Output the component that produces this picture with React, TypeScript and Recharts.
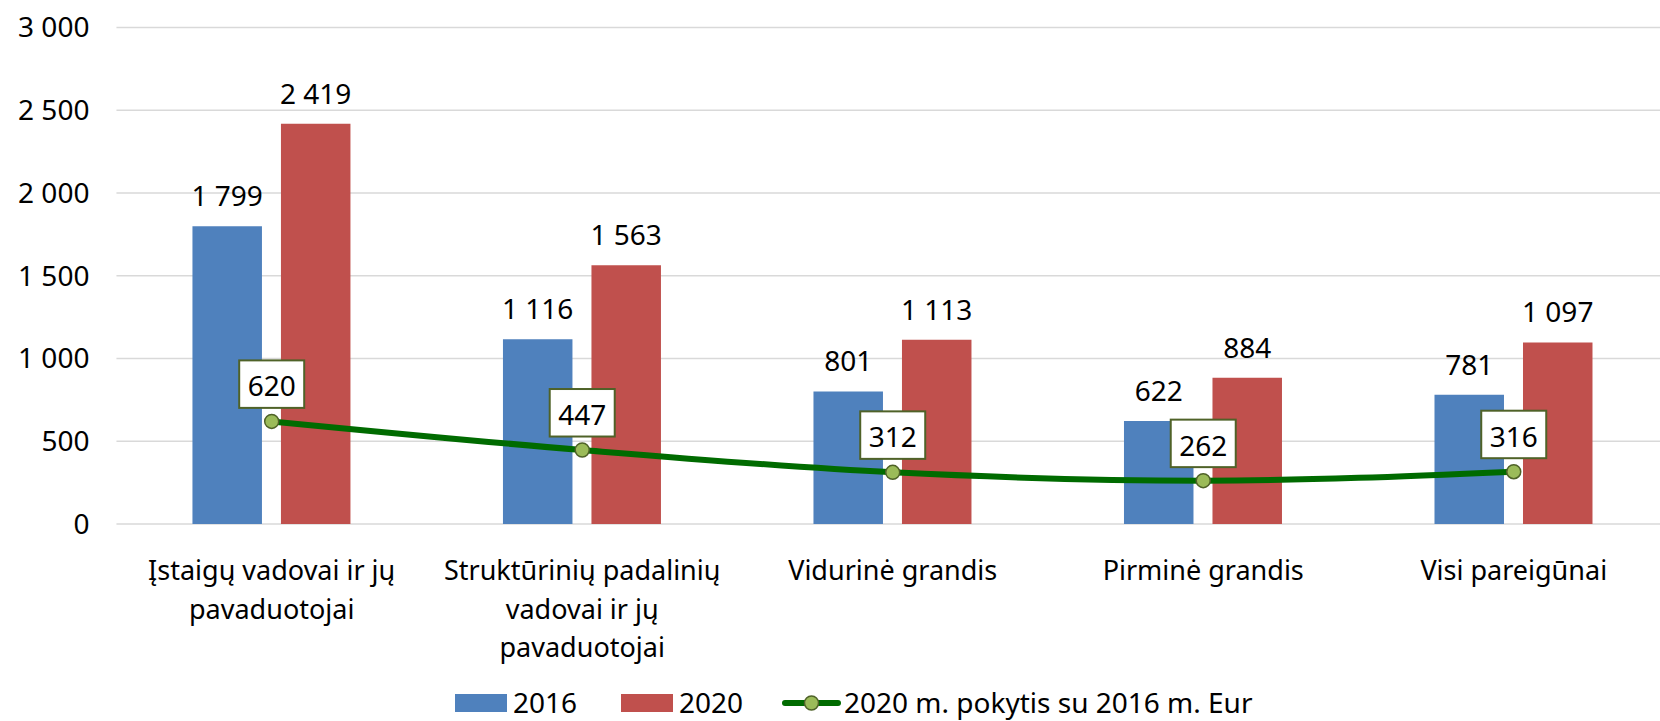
import React from "react"
import {
  ComposedChart,
  Bar,
  Line,
  XAxis,
  YAxis,
  CartesianGrid,
  Legend,
  LabelList,
} from "recharts"

// ── Data ─────────────────────────────────────────────
const categories = [
  "Įstaigų vadovai ir jų pavaduotojai",
  "Struktūrinių padalinių vadovai ir jų pavaduotojai",
  "Vidurinė grandis",
  "Pirminė grandis",
  "Visi pareigūnai",
]
const values2016 = [1799, 1116, 801, 622, 781]
const values2020 = [2419, 1563, 1113, 884, 1097]
const changeValues = [620, 447, 312, 262, 316]
const yTicks = [0, 500, 1000, 1500, 2000, 2500, 3000]

const seriesNames = {
  a: "2016",
  b: "2020",
  c: "2020 m. pokytis su 2016 m. Eur",
}

const data = categories.map((name, i) => ({
  name,
  a: values2016[i],
  b: values2020[i],
  c: changeValues[i],
}))

const FONT = "'Noto Sans', sans-serif"
const BLUE = "#4F81BD"
const RED = "#C0504D"
const GREEN = "#006B00"
const OLIVE = "#4F6228"

const fmt = (v: number) => String(v).replace(/\B(?=(\d{3})+(?!\d))/g, " ")

// wrap category names roughly like Excel does
function wrap(text: string, max = 23) {
  const words = text.split(" ")
  const lines: string[] = []
  let cur = ""
  for (const w of words) {
    const next = cur ? cur + " " + w : w
    if (next.length > max && cur) {
      lines.push(cur)
      cur = w
    } else {
      cur = next
    }
  }
  if (cur) lines.push(cur)
  return lines
}

function CategoryTick({ x, y, payload }: any) {
  const lines = wrap(payload.value)
  return (
    <g>
      {lines.map((l, i) => (
        <text
          key={i}
          x={x}
          y={y + 56 + i * 38.5}
          textAnchor="middle"
          fontFamily={FONT}
          fontSize={27}
          fill="#000"
        >
          {l}
        </text>
      ))}
    </g>
  )
}

function BoxLabel({ x, y, value }: any) {
  const w = 65
  const h = 47.5
  return (
    <g>
      <rect
        x={x - w / 2}
        y={y - 13.5 - h}
        width={w}
        height={h}
        fill="#fff"
        stroke={OLIVE}
        strokeWidth={2}
      />
      <text
        x={x}
        y={y - 25}
        textAnchor="middle"
        fontFamily={FONT}
        fontSize={28}
        fill="#000"
      >
        {fmt(value)}
      </text>
    </g>
  )
}

function LegendContent({ payload }: any) {
  return (
    <svg width={820} height={34} style={{ display: "block", overflow: "visible" }}>
      {(() => {
        // item x positions along the legend row
        const starts = [0, 166, 328]
        return (payload || []).map((p: any, i: number) => {
          const x0 = starts[i] ?? 0
          if (p.type === "line") {
            return (
              <g key={i}>
                <line x1={x0 + 2} y1={16} x2={x0 + 55} y2={16} stroke={GREEN} strokeWidth={6} strokeLinecap="round" />
                <circle cx={x0 + 28.5} cy={16} r={7} fill="#9BBB59" stroke={OLIVE} strokeWidth={1.5} />
                <text x={x0 + 61} y={26} fontFamily={FONT} fontSize={28} fill="#000">
                  {p.value}
                </text>
              </g>
            )
          }
          return (
            <g key={i}>
              <rect x={x0} y={7} width={52} height={18} fill={p.color} />
              <text x={x0 + 58} y={26} fontFamily={FONT} fontSize={28} fill="#000">
                {p.value}
              </text>
            </g>
          )
        })
      })()}
    </svg>
  )
}

export default function App() {
  return (
    <div
      style={{
        position: "absolute",
        left: 0,
        top: 0,
        width: 1660,
        height: 721,
        overflow: "hidden",
        background: "#fff",
      }}
    >
      <ComposedChart
        width={1669}
        height={721}
        data={data}
        margin={{ top: 27.5, right: 0, left: 0, bottom: 0 }}
        barGap={19}
      >
        <CartesianGrid vertical={false} stroke="#D9D9D9" strokeWidth={1.5} />
        <XAxis
          dataKey="name"
          axisLine={false}
          tickLine={false}
          tickSize={0}
          tickMargin={0}
          height={163}
          interval={0}
          tick={<CategoryTick />}
        />
        <YAxis
          domain={[0, 3000]}
          ticks={yTicks}
          width={116.45}
          axisLine={false}
          tickLine={false}
          tickSize={0}
          tickMargin={27}
          tickFormatter={fmt}
          tick={{ fontFamily: FONT, fontSize: 28, fill: "#000" }}
        />
        <Legend
          verticalAlign="bottom"
          content={<LegendContent />}
          wrapperStyle={{ left: 455, bottom: 0, width: 820, height: 34 }}
        />
        <Bar dataKey="a" name={seriesNames.a} fill={BLUE} barSize={69.5} isAnimationActive={false}>
          <LabelList
            dataKey="a"
            position="top"
            offset={20}
            formatter={fmt}
            style={{ fontFamily: FONT, fontSize: 28, fill: "#000" }}
          />
        </Bar>
        <Bar dataKey="b" name={seriesNames.b} fill={RED} barSize={69.5} isAnimationActive={false}>
          <LabelList
            dataKey="b"
            position="top"
            offset={20}
            formatter={fmt}
            style={{ fontFamily: FONT, fontSize: 28, fill: "#000" }}
          />
        </Bar>
        <Line
          dataKey="c"
          name={seriesNames.c}
          type="monotone"
          stroke={GREEN}
          strokeWidth={6}
          dot={{ r: 7, fill: "#9BBB59", stroke: OLIVE, strokeWidth: 1.5 }}
          activeDot={false}
          legendType="line"
          isAnimationActive={false}
        >
          <LabelList dataKey="c" content={<BoxLabel />} />
        </Line>
      </ComposedChart>
    </div>
  )
}
